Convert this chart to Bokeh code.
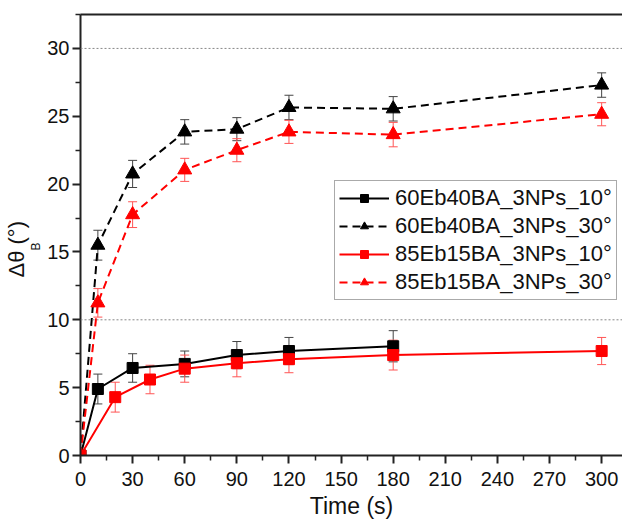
from bokeh.plotting import figure
from bokeh.models import (Range1d, FixedTicker, LinearAxis, Span, Whisker, TeeHead,
                          ColumnDataSource, Legend, LegendItem, Title)
from bokeh.embed import file_html
from bokeh.resources import INLINE

# ---- data ----
t_a10 = [0, 10, 30, 60, 90, 120, 180]
y_a10 = [0.0, 4.9, 6.45, 6.75, 7.4, 7.7, 8.05]
e_a10 = [0.0, 1.1, 1.05, 0.95, 1.0, 1.0, 1.15]

t_a30 = [0, 10, 30, 60, 90, 120, 180, 300]
y_a30 = [0.0, 15.5, 20.75, 23.85, 24.05, 25.65, 25.55, 27.3]
e_a30 = [0.0, 1.1, 1.0, 0.9, 0.85, 0.9, 0.9, 0.9]

t_b10 = [0, 20, 40, 60, 90, 120, 180, 300]
y_b10 = [0.0, 4.3, 5.6, 6.4, 6.8, 7.1, 7.4, 7.7]
e_b10 = [0.0, 1.1, 1.05, 1.0, 1.0, 1.0, 1.1, 1.0]

t_b30 = [0, 10, 30, 60, 90, 120, 180, 300]
y_b30 = [0.0, 11.25, 17.75, 21.05, 22.5, 23.85, 23.65, 25.15]
e_b30 = [0.0, 1.05, 0.95, 0.85, 0.85, 0.85, 0.9, 0.85]

labels = ["60Eb40BA_3NPs_10\u00b0", "60Eb40BA_3NPs_30\u00b0",
          "85Eb15BA_3NPs_10\u00b0", "85Eb15BA_3NPs_30\u00b0"]
x_ticks = [0, 30, 60, 90, 120, 150, 180, 210, 240, 270, 300]
y_ticks = [0, 5, 10, 15, 20, 25, 30]
ylabel_main = "\u0394\u03b8  (\u00b0)"
ylabel_sub = "B"

FONT = "Liberation Sans"
H = 524
FL, FB = 80, 455  # frame left / bottom in page pixels

p = figure(width=622, height=H, output_backend="svg", toolbar_location=None,
           x_range=Range1d(0, 312), y_range=Range1d(0, 32.5),
           min_border_left=FL, min_border_right=0, min_border_top=14,
           min_border_bottom=H - FB)
p.xgrid.visible = False
p.ygrid.visible = False
p.outline_line_color = None
p.background_fill_color = "white"

for ax, ticks in ((p.xaxis[0], x_ticks), (p.yaxis[0], y_ticks)):
    step = ticks[1] - ticks[0]
    ax.ticker = FixedTicker(ticks=ticks,
                            minor_ticks=[v + step / 2 for v in ticks])
    ax.axis_line_width = 2
    ax.axis_line_color = "#222222"
    ax.major_tick_line_width = 2
    ax.major_tick_line_color = "#222222"
    ax.minor_tick_line_width = 1.5
    ax.minor_tick_line_color = "#222222"
    ax.major_tick_in = 0
    ax.major_tick_out = 8
    ax.minor_tick_in = 0
    ax.minor_tick_out = 5
    ax.major_label_text_font = FONT
    ax.major_label_text_font_size = "20px"
    ax.major_label_text_color = "#111111"

p.xaxis.major_label_standoff = 8
p.yaxis.major_label_standoff = 3
p.xaxis.axis_label = "Time (s)"
p.xaxis.axis_label_text_font = FONT
p.xaxis.axis_label_text_font_size = "23px"
p.xaxis.axis_label_text_font_style = "normal"
p.xaxis.axis_label_text_color = "#111111"
p.xaxis.axis_label_standoff = 4
p.yaxis.axis_label = None

# y-axis label  Δθ_B (°): subscript in the column next to the axis
p.add_layout(Title(text=ylabel_sub, text_font=FONT, text_font_size="12px",
                   text_font_style="normal", text_color="#111111",
                   align="left", offset=FB - 250, standoff=0,
                   vertical_align="top"), "left")
p.add_layout(Title(text=ylabel_main, text_font=FONT, text_font_size="22px",
                   text_font_style="normal", text_color="#111111",
                   align="left", offset=FB - 277, standoff=0), "left")

top = LinearAxis(ticker=FixedTicker(ticks=[]), major_label_text_font_size="0px",
                 major_tick_line_color=None, minor_tick_line_color=None,
                 axis_line_width=2, axis_line_color="#222222")
p.add_layout(top, "above")

for yv in (10, 30):
    p.add_layout(Span(location=yv, dimension="width", line_color="#888888",
                      line_width=1, line_dash="2 2"))

series = [
    (t_a10, y_a10, e_a10, "black", "#444444", "square", "solid"),
    (t_a30, y_a30, e_a30, "black", "#444444", "triangle", "8 5"),
    (t_b10, y_b10, e_b10, "red", "#ff5555", "square", "solid"),
    (t_b30, y_b30, e_b30, "red", "#ff5555", "triangle", "8 5"),
]
items = []
for (t, y, e, col, ecol, mk, dash), lb in zip(series, labels):
    src = ColumnDataSource(dict(x=t, y=y, lo=[a - b for a, b in zip(y, e)],
                                hi=[a + b for a, b in zip(y, e)]))
    lr = p.line("x", "y", source=src, line_color=col, line_width=2, line_dash=dash)
    p.add_layout(Whisker(base="x", lower="lo", upper="hi", source=src,
                         line_color=ecol, line_width=1,
                         lower_head=TeeHead(size=9, line_color=ecol, line_width=1),
                         upper_head=TeeHead(size=9, line_color=ecol, line_width=1)))
    sr = p.scatter("x", "y", source=src, marker=mk,
                   size=11 if mk == "square" else 14,
                   fill_color=col, line_color=col)
    items.append(LegendItem(label=lb, renderers=[lr, sr]))

leg = Legend(items=items, location=(254, 155), orientation="vertical",
             label_text_font=FONT, label_text_font_size="22px",
             label_text_color="#111111",
             glyph_width=50, glyph_height=20, label_height=20,
             label_standoff=6, spacing=2, padding=4, margin=0,
             border_line_color="#555555", border_line_width=1,
             background_fill_color="white", background_fill_alpha=1)
p.add_layout(leg, "center")

open("out.html", "w").write(file_html(p, INLINE))
